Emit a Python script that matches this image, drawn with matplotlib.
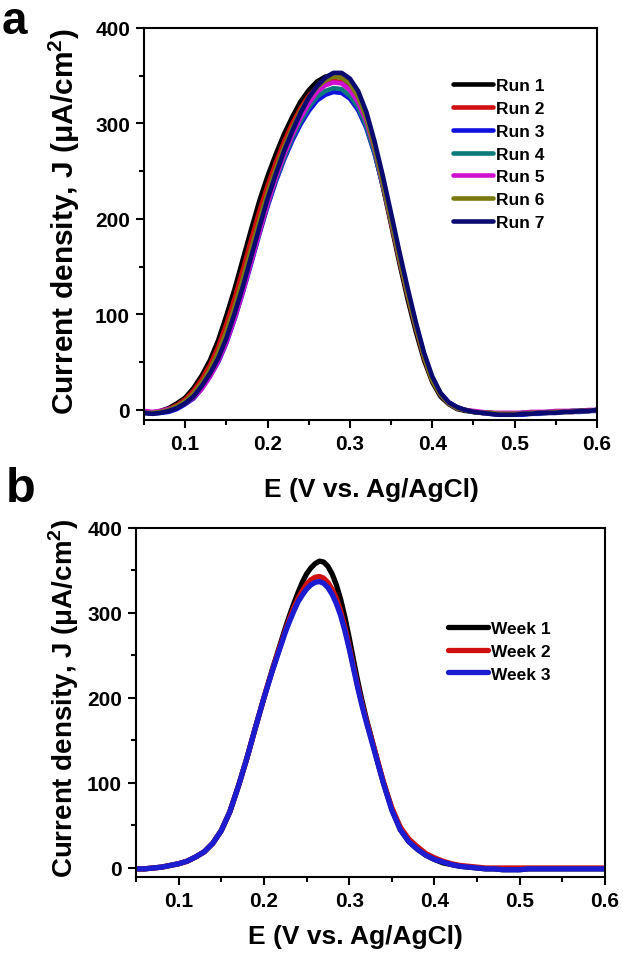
import numpy as np
import matplotlib
matplotlib.use('Agg')
import matplotlib.pyplot as plt
from matplotlib.ticker import MultipleLocator

plt.rcParams['font.family'] = ['Liberation Sans', 'DejaVu Sans']
plt.rcParams['font.weight'] = 'bold'
plt.rcParams['mathtext.fontset'] = 'custom'
plt.rcParams['mathtext.rm'] = 'Liberation Sans'
plt.rcParams['mathtext.bf'] = 'Liberation Sans:bold'

# panel a potential grid (V vs. Ag/AgCl), 0.05 .. 0.60
E_a = np.round(np.arange(0.05, 0.6001, 0.01), 2)

# panel a: repeated runs (uA/cm2)
run1 = [-3, -3, -1, 2, 7, 13, 23, 36, 52, 73, 99, 127, 158, 189, 219, 245, 268, 289, 307, 323,
        335, 344, 349, 351, 348, 340, 325, 302, 271, 234, 194, 154, 116, 82, 52, 29, 14, 6, 1, -1,
        -2, -3, -3, -4, -4, -4, -3, -3, -3, -2, -2, -2, -1, -1, -1, 0]
run2 = [-2, -3, -2, 1, 5, 11, 20, 32, 47, 66, 90, 117, 147, 178, 208, 235, 259, 281, 300, 316,
        329, 338, 343, 345, 343, 336, 322, 300, 270, 234, 196, 157, 120, 86, 55, 31, 16, 7, 2, 0,
        -2, -3, -3, -4, -4, -4, -4, -3, -3, -3, -2, -2, -2, -1, -1, 0]
run3 = [-3, -4, -3, -2, 1, 6, 12, 22, 35, 50, 70, 95, 123, 153, 184, 213, 239, 262, 282, 299,
        313, 324, 330, 333, 332, 326, 314, 295, 268, 235, 199, 161, 124, 90, 58, 33, 17, 8, 3, 0,
        -2, -3, -4, -5, -5, -5, -5, -4, -4, -3, -3, -2, -2, -2, -1, -1]
run4 = [-3, -3, -2, 0, 3, 7, 14, 24, 37, 53, 73, 98, 126, 156, 186, 215, 241, 264, 285, 302,
        317, 328, 334, 337, 336, 329, 317, 297, 269, 235, 198, 159, 122, 88, 57, 32, 17, 7, 2, 0,
        -2, -3, -3, -4, -4, -4, -4, -3, -3, -3, -2, -2, -1, -1, -1, 0]
run5 = [-1, -2, -1, 1, 3, 7, 13, 22, 35, 51, 71, 96, 124, 155, 186, 216, 243, 267, 288, 306,
        321, 333, 340, 343, 342, 335, 322, 302, 273, 237, 199, 160, 123, 89, 57, 32, 17, 7, 2, 0,
        -1, -2, -3, -3, -3, -3, -3, -2, -2, -2, -1, -1, -1, -1, 0, 0]
run6 = [-3, -3, -2, 0, 4, 9, 17, 28, 42, 60, 82, 108, 137, 168, 198, 227, 252, 275, 295, 313,
        327, 338, 345, 349, 348, 342, 328, 306, 275, 238, 199, 160, 122, 88, 56, 31, 16, 7, 2, 0,
        -2, -3, -3, -4, -4, -4, -4, -3, -3, -3, -2, -2, -2, -1, -1, 0]
run7 = [-3, -4, -3, -1, 2, 7, 14, 25, 38, 54, 75, 101, 129, 160, 191, 221, 247, 271, 292, 311,
        327, 339, 348, 353, 353, 347, 334, 312, 281, 245, 206, 166, 128, 92, 60, 35, 18, 8, 3, 0,
        -2, -3, -4, -5, -5, -5, -4, -4, -3, -3, -3, -2, -2, -1, -1, 0]

# panel b potential grid: finer steps across the peak
E_b = [0.05, 0.06, 0.07, 0.08, 0.09, 0.10, 0.11, 0.12, 0.13, 0.14, 0.15, 0.16, 0.17, 0.18, 0.19,
       0.200, 0.205, 0.210, 0.215, 0.220, 0.225, 0.230, 0.235, 0.240, 0.245, 0.250, 0.255,
       0.260, 0.265, 0.270, 0.275, 0.280, 0.285, 0.290, 0.295, 0.300, 0.305, 0.310, 0.315,
       0.320, 0.325, 0.330, 0.335, 0.340, 0.345,
       0.35, 0.36, 0.37, 0.38, 0.39, 0.40, 0.41, 0.42, 0.43, 0.44, 0.45, 0.46, 0.47, 0.48,
       0.49, 0.50, 0.51, 0.52, 0.53, 0.54, 0.55, 0.56, 0.57, 0.58, 0.59, 0.60]

# panel b: stability over weeks (uA/cm2)
week1 = [-1, -1, 0, 1, 3, 5, 8, 13, 19, 29, 44, 66, 96, 129, 165,
         200, 217, 234, 250, 266, 282, 297, 311, 324, 336, 346, 353,
         358, 361, 360, 355, 346, 333, 316, 295, 271, 245, 220, 197,
         176, 157, 138, 119, 101, 85,
         69, 45, 31, 22, 15, 10, 6, 4, 2, 1, 0, -1, -1, -2,
         -2, -2, -1, -1, -1, -1, -1, -1, -1, -1, -1, -1]
week2 = [-1, -1, 0, 1, 3, 5, 8, 13, 19, 29, 44, 66, 96, 129, 165,
         200, 217, 233, 249, 264, 279, 293, 306, 317, 326, 334, 339,
         342, 343, 341, 336, 328, 317, 302, 283, 261, 237, 214, 193,
         174, 156, 138, 120, 102, 86,
         71, 48, 34, 25, 17, 12, 8, 5, 3, 2, 1, 0, 0, 0,
         0, 0, 0, 0, 0, 0, 0, 0, 0, 0, 0, 0]
week3 = [-1, -1, 0, 1, 3, 5, 8, 13, 19, 29, 44, 66, 96, 129, 165,
         200, 216, 232, 247, 262, 277, 290, 302, 313, 321, 328, 333,
         336, 337, 335, 330, 322, 311, 297, 279, 258, 235, 212, 191,
         172, 154, 136, 118, 100, 84,
         68, 45, 31, 22, 15, 10, 7, 4, 2, 1, 0, -1, -1, -2,
         -2, -2, -1, -1, -1, -1, -1, -1, -1, -1, -1, -1]

runs = [run1, run2, run3, run4, run5, run6, run7]
run_labels = ['Run 1', 'Run 2', 'Run 3', 'Run 4', 'Run 5', 'Run 6', 'Run 7']
run_colors = ['#000000', '#d01010', '#1010e0', '#0a7a7a', '#d010d0', '#7a7a10', '#0a0a70']
weeks = [week1, week2, week3]
week_labels = ['Week 1', 'Week 2', 'Week 3']
week_colors = ['#000000', '#d01010', '#1c1cd0']

ylabel = r'Current density, J ($\mathrm{\mu}$A/cm$^{\mathbf{2}}$)'
xlabel = 'E (V vs. Ag/AgCl)'

fig = plt.figure(figsize=(6.23, 9.54), dpi=100)
ax_a = fig.add_axes([144 / 623, 1 - 421 / 954, 453 / 623, 392 / 954])
ax_b = fig.add_axes([136 / 623, 1 - 878 / 954, 469 / 623, 349 / 954])


def style(ax, ymin):
    ax.set_xlim(0.05, 0.6)
    ax.set_ylim(ymin, 400)
    ax.xaxis.set_minor_locator(MultipleLocator(0.05))
    ax.yaxis.set_major_locator(MultipleLocator(100))
    ax.yaxis.set_minor_locator(MultipleLocator(50))
    ax.set_xticks([0.1, 0.2, 0.3, 0.4, 0.5, 0.6])
    ax.set_xticklabels(['0.1', '0.2', '0.3', '0.4', '0.5', '0.6'])
    ax.tick_params(which='major', length=6, width=1.5, labelsize=15, pad=4, direction='out')
    ax.tick_params(which='minor', length=3.5, width=1.5, direction='out')
    ax.tick_params(top=False, right=False)
    for s in ax.spines.values():
        s.set_linewidth(1.5)


for y, lab, c in zip(runs, run_labels, run_colors):
    ax_a.plot(E_a, y, color=c, lw=3.3, label=lab, solid_capstyle='round')
style(ax_a, -10.5)
ax_a.legend(loc='upper left', bbox_to_anchor=(0.682, 0.872), frameon=False, fontsize=12.5,
            handlelength=2.3, handletextpad=0.2, labelspacing=0.44, borderpad=0, borderaxespad=0)

for y, lab, c in zip(weeks, week_labels, week_colors):
    ax_b.plot(E_b, y, color=c, lw=3.8, label=lab, solid_capstyle='round')
style(ax_b, -10.6)
ax_b.legend(loc='upper left', bbox_to_anchor=(0.665, 0.734), frameon=False, fontsize=12.5,
            handlelength=2.3, handletextpad=0.2, labelspacing=0.44, borderpad=0, borderaxespad=0)

# axis titles and panel letters
fig.text(64 / 623, 1 - 222 / 954, ylabel, rotation=90, ha='center', va='center', fontsize=21.5)
fig.text(64 / 623, 1 - 698 / 954, ylabel, rotation=90, ha='center', va='center', fontsize=20)
fig.text(371 / 623, 1 - 490 / 954, xlabel, ha='center', va='center', fontsize=19)
fig.text(355 / 623, 1 - 937 / 954, xlabel, ha='center', va='center', fontsize=19)
fig.text(2 / 623, 1 - 34 / 954, 'a', ha='left', va='baseline', fontsize=33)
fig.text(6 / 623, 1 - 502 / 954, 'b', ha='left', va='baseline', fontsize=35)

fig.savefig('out.png', dpi=100)
